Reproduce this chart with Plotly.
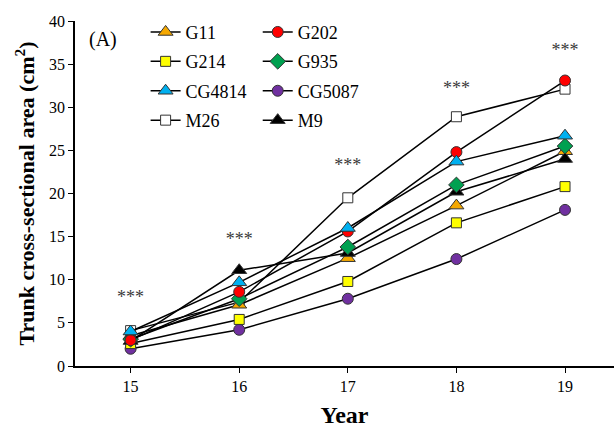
import plotly.graph_objects as go

# Rootstock trunk cross-sectional area by year
years = [15, 16, 17, 18, 19]

g11 = [3.5, 7.1, 12.5, 18.6, 24.9]
g202 = [3.0, 8.6, 15.6, 24.8, 33.1]
g214 = [2.6, 5.4, 9.8, 16.6, 20.8]
g935 = [3.1, 7.8, 13.8, 21.0, 25.5]
cg4814 = [4.0, 9.7, 16.0, 23.7, 26.7]
cg5087 = [2.0, 4.2, 7.8, 12.4, 18.1]
m26 = [4.1, 7.4, 19.5, 28.9, 32.1]
m9 = [2.9, 11.1, 13.1, 20.2, 24.0]

# significance marks drawn above each year
sig_labels = ["***", "***", "***", "***", "***"]
sig_heights = [7.8, 14.6, 23.1, 32.1, 36.5]

SERIF = "Liberation Serif"

# name, values, symbol, fill colour, legend column, marker size
series = [
    ("G11", g11, "triangle-up", "#F5A800", "legend", 13),
    ("G214", g214, "square", "#FFFF00", "legend", 10),
    ("CG4814", cg4814, "triangle-up", "#00B0F0", "legend", 13),
    ("M26", m26, "square", "#FFFFFF", "legend", 10),
    ("G202", g202, "circle", "#FF0000", "legend2", 11),
    ("G935", g935, "diamond", "#00A050", "legend2", 12),
    ("CG5087", cg5087, "circle", "#7030A0", "legend2", 11),
    ("M9", m9, "triangle-up", "#000000", "legend2", 13),
]

# drawing order: later traces on top
draw_order = ["M26", "CG5087", "G214", "G11", "M9", "G935", "G202", "CG4814"]
by_name = {s[0]: s for s in series}
rank = {s[0]: i for i, s in enumerate(series)}

fig = go.Figure()
for name in draw_order:
    _, vals, sym, col, leg, size = by_name[name]
    fig.add_trace(go.Scatter(
        x=years, y=vals, name=name, mode="lines+markers",
        line=dict(color="black", width=1.5),
        marker=dict(symbol=sym, size=size, color=col,
                    line=dict(color="#333333", width=1)),
        legend=leg, legendgroup=name, legendrank=rank[name],
    ))

fig.add_trace(go.Scatter(
    x=years, y=sig_heights, mode="text", text=sig_labels,
    textfont=dict(family=SERIF, size=18, color="#3a3a3a"),
    showlegend=False, hoverinfo="skip",
))

legend_style = dict(
    font=dict(family=SERIF, size=18, color="black"),
    bgcolor="rgba(0,0,0,0)", itemwidth=30, tracegroupgap=3,
    xanchor="left", yanchor="top", orientation="v",
)

fig.update_layout(
    width=614, height=428,
    margin=dict(l=75, r=0, t=21, b=62),
    paper_bgcolor="white", plot_bgcolor="white",
    font=dict(family=SERIF, color="black"),
    legend=dict(x=0.131, y=1.021, **legend_style),
    legend2=dict(x=0.339, y=1.021, **legend_style),
    xaxis=dict(
        range=[14.488, 19.451], tickvals=years, ticktext=[str(y) for y in years],
        showline=True, linecolor="black", linewidth=1.5,
        ticks="outside", ticklen=5, tickcolor="black",
        showgrid=False, zeroline=False,
        tickfont=dict(family=SERIF, size=16),
        title=dict(text="<b>Year</b>", font=dict(family=SERIF, size=24), standoff=12),
    ),
    yaxis=dict(
        range=[0, 40], dtick=5,
        showline=True, linecolor="black", linewidth=1.5,
        ticks="outside", ticklen=5, tickcolor="black",
        showgrid=False, zeroline=False,
        tickfont=dict(family=SERIF, size=16),
        title=dict(text="<b>Trunk cross-sectional area (cm<sup>2</sup>)</b>",
                   font=dict(family=SERIF, size=22), standoff=8),
    ),
    annotations=[dict(
        text="(A)", xref="paper", yref="paper", x=0.022, y=0.945,
        xanchor="left", yanchor="middle", showarrow=False,
        font=dict(family=SERIF, size=20),
    )],
)

fig.write_html("out.html")
